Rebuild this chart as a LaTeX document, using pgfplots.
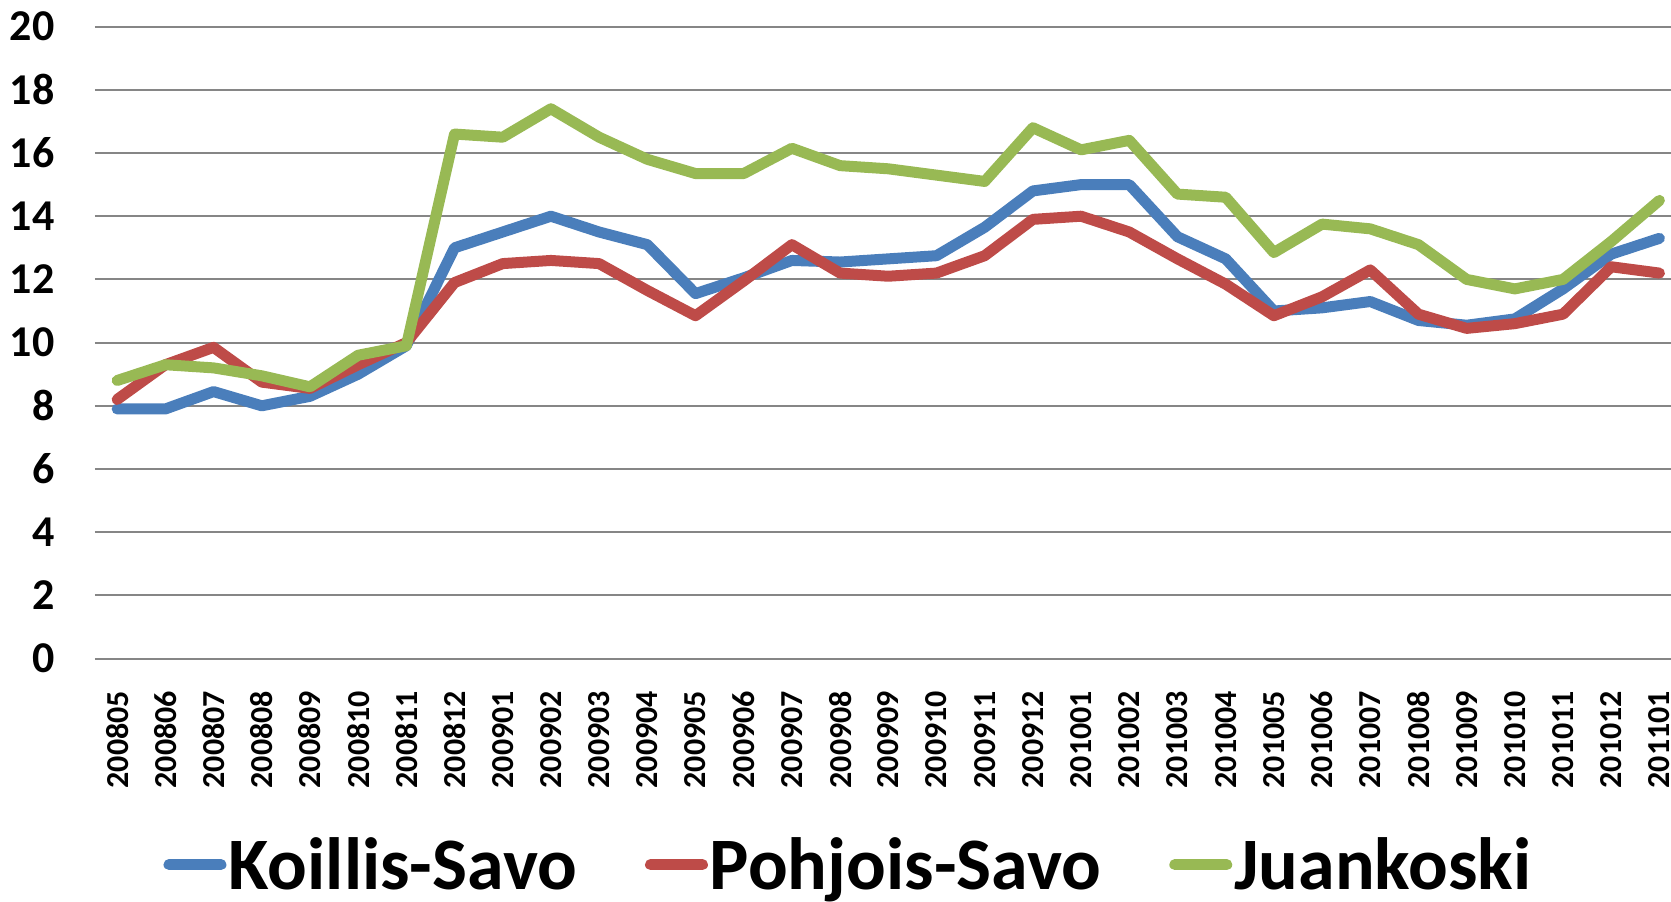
\documentclass[border=0pt]{standalone}
\usepackage{pgfplots}
\pgfplotsset{compat=1.18}
\usepackage{pgfplotstable}
\usepackage{fontspec}
\setmainfont{Carlito}
\definecolor{cblue}{HTML}{4A7EBB}
\definecolor{cred}{HTML}{BE4B48}
\definecolor{cgreen}{HTML}{98B954}
\definecolor{cgrid}{HTML}{868686}
\pgfplotstableread{
idx koillis pohjois juankoski
0 7.9 8.2 8.8
1 7.9 9.3 9.3
2 8.45 9.85 9.2
3 8.0 8.75 8.95
4 8.3 8.55 8.6
5 9.0 9.3 9.6
6 9.9 10.0 9.9
7 13.0 11.9 16.6
8 13.5 12.5 16.5
9 14.0 12.6 17.4
10 13.5 12.5 16.5
11 13.1 11.65 15.8
12 11.55 10.85 15.35
13 12.05 11.95 15.35
14 12.6 13.1 16.15
15 12.55 12.2 15.6
16 12.65 12.1 15.5
17 12.75 12.2 15.3
18 13.65 12.75 15.1
19 14.8 13.9 16.8
20 15.0 14.0 16.1
21 15.0 13.5 16.4
22 13.35 12.65 14.7
23 12.65 11.85 14.6
24 11.0 10.85 12.85
25 11.1 11.45 13.75
26 11.3 12.3 13.6
27 10.7 10.9 13.1
28 10.55 10.45 12.0
29 10.75 10.6 11.7
30 11.7 10.9 12.0
31 12.8 12.4 13.2
32 13.3 12.2 14.5
}\datatable
\begin{document}
\begin{tikzpicture}
\begin{axis}[
  at={(0,0)}, anchor=south west,
  scale only axis,
  width=788pt, height=316pt,
  xmin=-0.46, xmax=32.24,
  ymin=0, ymax=20,
  ytick={0,2,...,20},
  xtick={0,...,32},
  xticklabels={200805,200806,200807,200808,200809,200810,200811,200812,200901,200902,200903,200904,200905,200906,200907,200908,200909,200910,200911,200912,201001,201002,201003,201004,201005,201006,201007,201008,201009,201010,201011,201012,201101},
  axis line style={draw=none},
  major tick length=0pt,
  ymajorgrids,
  grid style={cgrid, line width=1pt},
  /pgf/number format/assume math mode=true,
  yticklabel style={font=\bfseries\fontsize{22}{24}\selectfont, anchor=east, inner sep=0pt, xshift=-20pt},
  xticklabel style={font=\bfseries\fontsize{16}{18}\selectfont, rotate=90, anchor=east, inner sep=0pt, xshift=-16pt},
  legend columns=3,
  legend style={at={(0.478,-0.326)}, anchor=center, draw=none, fill=none,
    font=\bfseries\fontsize{37}{40}\selectfont,
    nodes={inner sep=1pt},
    /tikz/every even column/.append style={column sep=33pt}},
  legend image code/.code={\draw[#1, line cap=round] (0pt,0pt) -- (26pt,0pt);},
  every axis plot/.append style={line width=5.5pt, line join=round, line cap=round},
]
\addplot[cblue] table[x=idx, y=koillis] {\datatable};
\addlegendentry{Koillis-Savo}
\addplot[cred] table[x=idx, y=pohjois] {\datatable};
\addlegendentry{Pohjois-Savo}
\addplot[cgreen] table[x=idx, y=juankoski] {\datatable};
\addlegendentry{Juankoski}
\end{axis}
\pgfresetboundingbox
\path[use as bounding box] (-47.5pt,-121.2pt) rectangle (788pt,329.3pt);
\end{tikzpicture}
\end{document}
